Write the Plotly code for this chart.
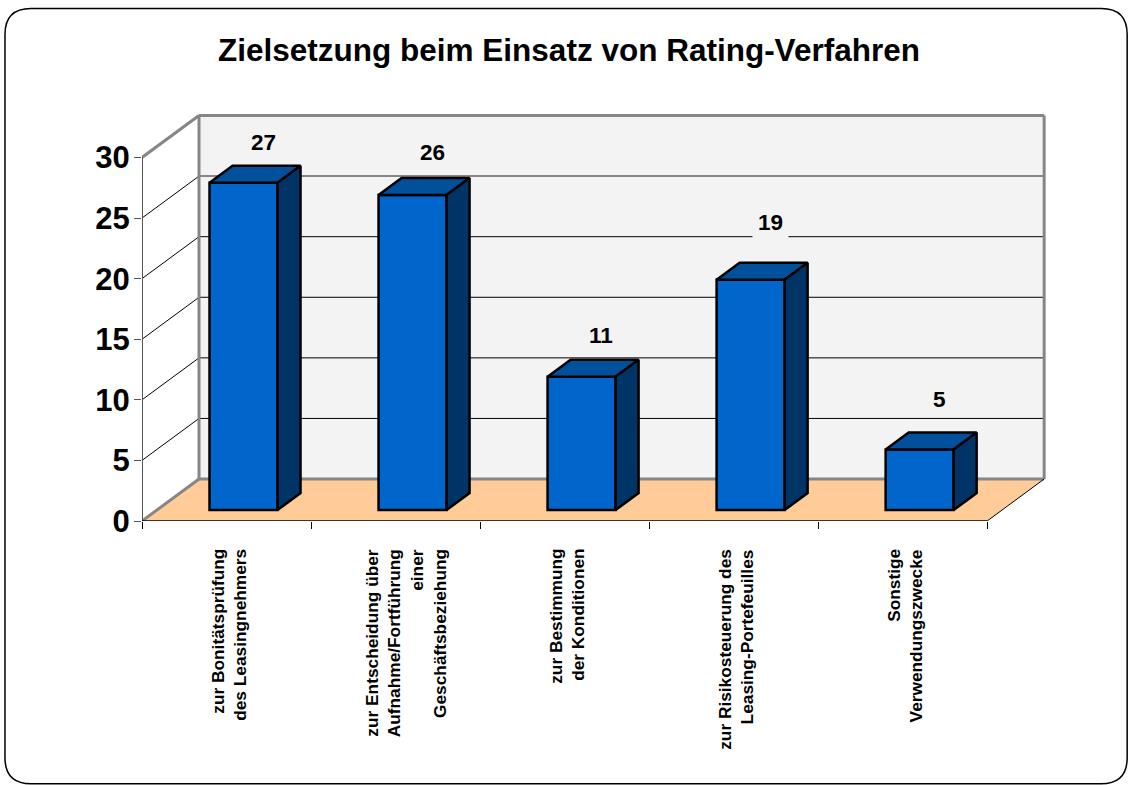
import plotly.graph_objects as go

categories = [
    ["zur Bonitätsprüfung", "des Leasingnehmers"],
    ["zur Entscheidung über", "Aufnahme/Fortführung", "einer", "Geschäftsbeziehung"],
    ["zur Bestimmung", "der Konditionen"],
    ["zur Risikosteuerung des", "Leasing-Portefeuilles"],
    ["Sonstige", "Verwendungszwecke"],
]
values = [27, 26, 11, 19, 5]
y_ticks = [0, 5, 10, 15, 20, 25, 30]
value_lift_px = [40, 42, 41, 57, 50]
value_pad = [0, 0, 0, 5, 0]
cat_label_shift_px = [2, 10, 2, 2, 2]

PX_X, PX_Y = 169.0, 12.13
W, H = 1128, 785
n = len(values)
# oblique projection, expressed in axis units
wall_dx, wall_dy = 57 / PX_X, 42 / PX_Y
front_dx, front_dy = 17 / PX_X, 11 / PX_Y
bar_w = 68 / PX_X
bar_dx, bar_dy = 23 / PX_X, 17 / PX_Y
x_max, y_max = 5.36, 34.0
left_px, base_px = 142, 521

GREY = "#868686"
FLOOR = "#FFCC99"
WALL = "#F3F3F3"
FRONT, TOP, SIDE = "#0066CC", "#00509C", "#003366"


def poly(pts):
    return "M " + " L ".join(f"{x},{y}" for x, y in pts) + " Z"


def seg(x0, y0, x1, y1, color, width):
    return dict(type="line", xref="x", yref="y", x0=x0, y0=y0, x1=x1, y1=y1,
                layer="below", line=dict(color=color, width=width))


shapes = [
    dict(type="path", xref="x", yref="y", layer="below", line_width=0, fillcolor=WALL,
         path=poly([(wall_dx, wall_dy), (n + wall_dx, wall_dy),
                    (n + wall_dx, 30 + wall_dy), (wall_dx, 30 + wall_dy)])),
    dict(type="path", xref="x", yref="y", layer="below", line_width=0, fillcolor=FLOOR,
         path=poly([(0, 0), (n, 0), (n + wall_dx, wall_dy), (wall_dx, wall_dy)])),
]
for v in y_ticks[1:-1]:
    col = GREY if v == 25 else "#000000"
    shapes.append(seg(wall_dx, v + wall_dy, n + wall_dx, v + wall_dy, col, 2 if v == 25 else 1))
    shapes.append(seg(0, v, wall_dx, v + wall_dy, "#000000", 1))
shapes += [
    seg(0, 30, wall_dx, 30 + wall_dy, GREY, 3),
    seg(wall_dx, 30 + wall_dy, n + wall_dx, 30 + wall_dy, GREY, 3),
    seg(wall_dx, wall_dy, wall_dx, 30 + wall_dy, GREY, 3),
    seg(n + wall_dx, wall_dy, n + wall_dx, 30 + wall_dy, GREY, 3),
    seg(wall_dx, wall_dy, n + wall_dx, wall_dy, GREY, 3),
    seg(0, 0, wall_dx, wall_dy, GREY, 3),
    seg(n, 0, n + wall_dx, wall_dy, "#000000", 1),
]

# rounded slide frame, converted from page pixels to paper fractions
plot_w = x_max * PX_X
plot_h = y_max * PX_Y
m_t = base_px - plot_h
m_b = H - base_px
m_r = W - left_px - plot_w


def px(x, y):
    return f"{(x - left_px) / plot_w},{(base_px - y) / plot_h}"


L, R, T, B, r = 5, 1127, 8, 784, 26
frame = (f"M {px(L + r, T)} L {px(R - r, T)} Q {px(R, T)} {px(R, T + r)} "
         f"L {px(R, B - r)} Q {px(R, B)} {px(R - r, B)} L {px(L + r, B)} "
         f"Q {px(L, B)} {px(L, B - r)} L {px(L, T + r)} Q {px(L, T)} {px(L + r, T)} Z")
shapes.append(dict(type="path", xref="paper", yref="paper", path=frame, layer="below",
                   line=dict(color="#000000", width=1.5)))

centers = [i + 0.5 + front_dx for i in range(n)]
fig = go.Figure()
fig.add_trace(go.Bar(x=centers, y=values, base=[front_dy] * n, width=bar_w,
                     marker=dict(color=FRONT, line=dict(color="#000000", width=2.5)),
                     hoverinfo="skip", showlegend=False))

for c, v in zip(centers, values):
    xl, xr = c - bar_w / 2, c + bar_w / 2
    yb, yt = front_dy, front_dy + v
    for xs, ys, col in [
        ([xl, xr, xr + bar_dx, xl + bar_dx, xl], [yt, yt, yt + bar_dy, yt + bar_dy, yt], TOP),
        ([xr, xr + bar_dx, xr + bar_dx, xr, xr], [yb, yb + bar_dy, yt + bar_dy, yt, yb], SIDE),
    ]:
        fig.add_trace(go.Scatter(x=xs, y=ys, mode="lines", fill="toself", fillcolor=col,
                                 line=dict(color="#000000", width=2.5), hoverinfo="skip",
                                 showlegend=False, cliponaxis=False))

fig.add_trace(go.Scatter(x=[0, 0], y=[0, 30], mode="lines", line=dict(color="#555555", width=2),
                         hoverinfo="skip", showlegend=False, cliponaxis=False))
fig.add_trace(go.Scatter(x=[0, n], y=[0, 0], mode="lines", line=dict(color="#000000", width=1.5),
                         hoverinfo="skip", showlegend=False, cliponaxis=False))

annotations = []
for i, lines in enumerate(categories):
    for j, line in enumerate(lines):
        offset = (j - (len(lines) - 1) / 2) * 22.6 + cat_label_shift_px[i]
        annotations.append(dict(
            x=i + 0.5, y=0, xref="x", yref="y", text=f"<b>{line}</b>", showarrow=False,
            textangle=-90, xanchor="center", yanchor="top", xshift=offset, yshift=-26,
            font=dict(family="Liberation Sans", size=17.3, color="#000000")))

for c, v, lift, pad in zip(centers, values, value_lift_px, value_pad):
    annotations.append(dict(
        x=c, y=front_dy + v, xref="x", yref="y", text=f"<b>{v}</b>", showarrow=False,
        xshift=19.5, yshift=lift, xanchor="center", yanchor="middle",
        bgcolor=WALL if pad else "rgba(0,0,0,0)", borderpad=pad,
        font=dict(family="Liberation Sans", size=22.5, color="#000000")))

fig.update_layout(
    width=W, height=H,
    margin=dict(l=left_px, r=m_r, t=m_t, b=m_b, autoexpand=False),
    paper_bgcolor="#FFFFFF", plot_bgcolor="#FFFFFF",
    showlegend=False, shapes=shapes, annotations=annotations,
    title=dict(text="<b>Zielsetzung beim Einsatz von Rating-Verfahren</b>",
               x=569 / W, xanchor="center", y=1 - 50 / H, yanchor="middle",
               font=dict(family="Liberation Sans", size=31.5, color="#000000")),
    xaxis=dict(range=[0, x_max], tickvals=list(range(n + 1)), showticklabels=False,
               ticks="outside", ticklen=7, tickwidth=1, tickcolor="#000000",
               showgrid=False, zeroline=False, showline=False, fixedrange=True),
    yaxis=dict(range=[0, y_max], tickvals=y_ticks, ticks="outside", ticklen=7, tickwidth=1,
               tickcolor="#555555", showgrid=False, zeroline=False, showline=False,
               ticklabelstandoff=-2,
               tickfont=dict(family="Liberation Sans", size=31, color="#000000", weight="bold"),
               fixedrange=True),
)
fig.write_html("out.html", config={"displayModeBar": False},
               post_script="document.body.style.margin='0';document.body.style.overflow='hidden';")
